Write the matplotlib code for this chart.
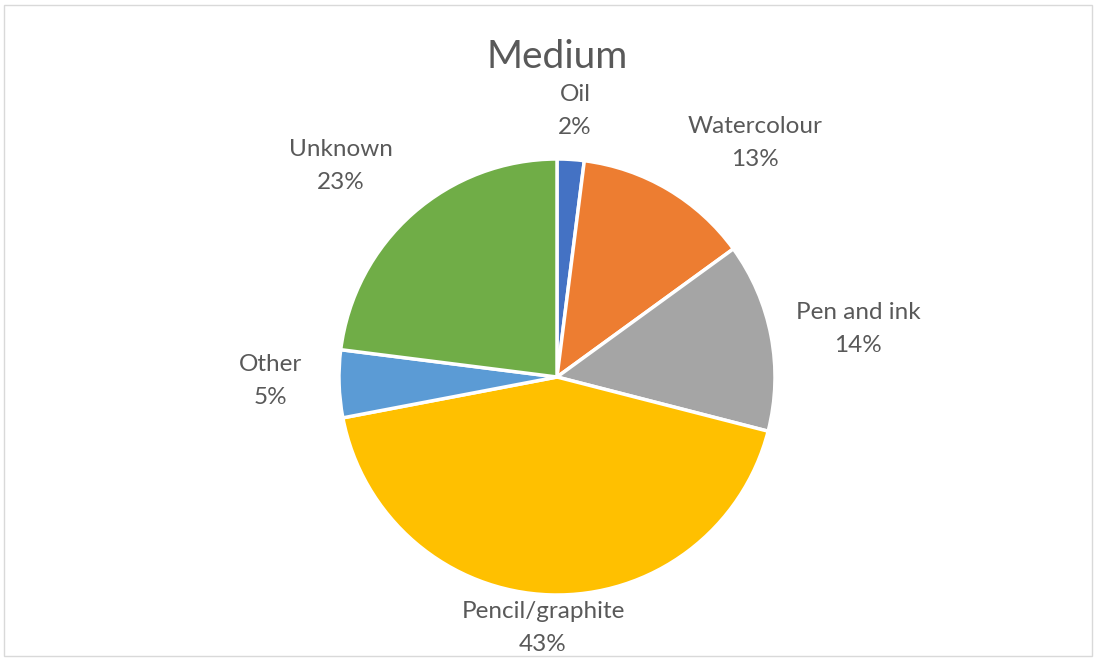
import matplotlib.pyplot as plt
from matplotlib.patches import Rectangle

plt.rcParams['font.family'] = ['Lato', 'DejaVu Sans']

# share of artworks per medium, clockwise from 12 o'clock
mediums = ["Oil", "Watercolour", "Pen and ink", "Pencil/graphite", "Other", "Unknown"]
shares = [2, 13, 14, 43, 5, 23]
colours = ["#4472C4", "#ED7D31", "#A5A5A5", "#FFC000", "#5B9BD5", "#70AD47"]

# label anchors (pixel coords, y from top) for the outside-end labels
label_pos = {
    "Oil": (575, 111),
    "Watercolour": (755, 143),
    "Pen and ink": (858, 329),
    "Pencil/graphite": (543, 628),
    "Other": (270, 381),
    "Unknown": (341, 166),
}

W, H = 1100, 659
fig = plt.figure(figsize=(W / 100, H / 100), dpi=100)
ax = fig.add_axes([0, 0, 1, 1])

# chart area border
ax.add_patch(Rectangle((4, 3), W - 12, H - 8, fill=False, edgecolor="#D9D9D9", linewidth=1))

cx, cy, r = 557, H - 377, 218
ax.pie(shares, colors=colours, startangle=90, counterclock=False,
       center=(cx, cy), radius=r, frame=True,
       wedgeprops=dict(edgecolor="white", linewidth=2.5))
ax.set_xlim(0, W)
ax.set_ylim(0, H)
ax.set_aspect("equal")
ax.axis("off")

total = sum(shares)
for name, val in zip(mediums, shares):
    x, y = label_pos[name]
    ax.text(x, H - y, f"{name}\n{round(100 * val / total)}%", ha="center", va="center",
            fontsize=17.5, color="#595959", linespacing=1.75)

ax.text(557, H - 57, "Medium", ha="center", va="center", fontsize=28, color="#595959")

fig.savefig("out.png", dpi=100)
